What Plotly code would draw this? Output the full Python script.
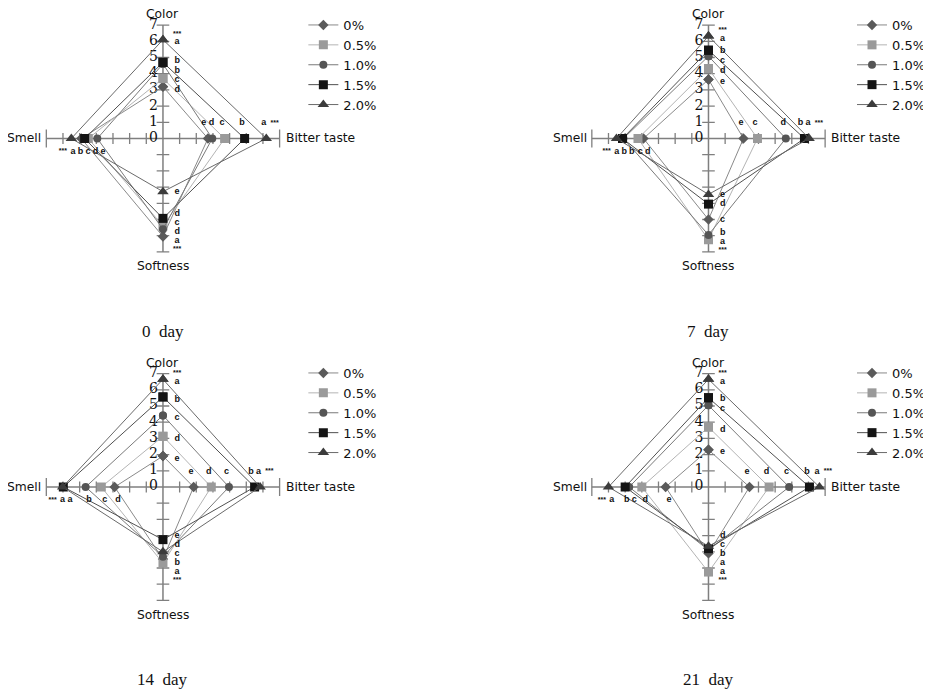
import plotly.graph_objects as go

# screen size and the page's default body margin (figure is drawn offset by it)
SCREEN_W, SCREEN_H = 931, 693
OFF = 8
W, H = SCREEN_W - OFF, SCREEN_H - OFF

series_names = ["0%", "0.5%", "1.0%", "1.5%", "2.0%"]
day_labels = ["0\u00a0 day", "7\u00a0 day", "14\u00a0 day", "21\u00a0 day"]
axis_names = ["Color", "Bitter taste", "Softness", "Smell"]
scale_ticks = [0, 1, 2, 3, 4, 5, 6, 7]
axis_max = 7
signif_mark = "***"

# ---- values, ordered as series_names: 0%, 0.5%, 1.0%, 1.5%, 2.0% ----
# day 0
color_d0 = [3.2, 3.7, 4.6, 4.7, 6.1]
bitter_d0 = [2.7, 3.7, 2.96, 4.9, 6.2]
soft_d0 = [6.05, 5.4, 5.6, 4.93, 3.28]
smell_d0 = [4.9, 4.48, 3.94, 4.7, 5.5]
# day 7
color_d7 = [3.64, 4.32, 5.08, 5.45, 6.32]
bitter_d7 = [2.1, 2.94, 4.64, 5.76, 6.04]
soft_d7 = [5.0, 6.25, 5.95, 4.05, 3.45]
smell_d7 = [3.9, 4.23, 5.1, 5.16, 5.52]
# day 14
color_d14 = [1.91, 3.13, 4.42, 5.56, 6.65]
bitter_d14 = [1.84, 2.9, 3.96, 5.5, 5.83]
soft_d14 = [4.45, 4.7, 4.3, 3.25, 4.0]
smell_d14 = [2.9, 3.7, 4.64, 5.98, 6.02]
# day 21
color_d21 = [2.3, 3.7, 5.04, 5.51, 6.65]
bitter_d21 = [2.46, 3.64, 4.84, 6.06, 6.66]
soft_d21 = [4.1, 5.25, 3.9, 3.8, 3.65]
smell_d21 = [2.57, 4.0, 4.76, 5.0, 6.0]

# ---- significance letters (same order) ----
color_l0 = ["d", "c", "b", "b", "a"]
bitter_l0 = ["e", "c", "d", "b", "a"]
soft_l0 = ["a", "c", "d", "d", "e"]
smell_l0 = ["b", "d", "e", "c", "a"]
color_l7 = ["e", "d", "c", "b", "a"]
bitter_l7 = ["e", "c", "d", "b", "a"]
soft_l7 = ["c", "a", "b", "d", "e"]
smell_l7 = ["d", "c", "b", "b", "a"]
color_l14 = ["e", "d", "c", "b", "a"]
bitter_l14 = ["e", "d", "c", "b", "a"]
soft_l14 = ["b", "a", "c", "e", "d"]
smell_l14 = ["d", "c", "b", "a", "a"]
color_l21 = ["e", "d", "c", "b", "a"]
bitter_l21 = ["e", "d", "c", "b", "a"]
soft_l21 = ["a", "a", "b", "c", "d"]
smell_l21 = ["e", "d", "c", "b", "a"]

days_values = [
    (color_d0, bitter_d0, soft_d0, smell_d0),
    (color_d7, bitter_d7, soft_d7, smell_d7),
    (color_d14, bitter_d14, soft_d14, smell_d14),
    (color_d21, bitter_d21, soft_d21, smell_d21),
]
days_letters = [
    (color_l0, bitter_l0, soft_l0, smell_l0),
    (color_l7, bitter_l7, soft_l7, smell_l7),
    (color_l14, bitter_l14, soft_l14, smell_l14),
    (color_l21, bitter_l21, soft_l21, smell_l21),
]

# ---- styles ----
symbols = ["diamond", "square", "circle", "square", "triangle-up"]
marker_colors = ["#5a5a5a", "#9a9a9a", "#555555", "#141414", "#3c3c3c"]
marker_sizes = [8, 9, 8, 9, 10]
line_colors = ["#8a8a8a", "#b4b4b4", "#7a7a7a", "#505050", "#6a6a6a"]
axis_color = "#7f7f7f"

# panel centres and legend top-left, in screen pixels
centers = [(163.3, 138.5), (710.0, 138.5), (163.3, 487.0), (710.0, 487.0)]
legend_pos = [(304, 10), (854, 10), (304, 358), (854, 358)]
UX, UY = 16.7, 16.2
HX, HY = 9.2, 8.0


def fx(px):
    return (px - OFF) / W


def fy(py):
    return 1 - (py - OFF) / H


def spread(vals, gap):
    order = sorted(range(len(vals)), key=lambda i: vals[i])
    clusters = [[i] for i in order]

    def positions(cl):
        c = sum(vals[i] for i in cl) / len(cl)
        n = len(cl)
        return [c + (k - (n - 1) / 2) * gap for k in range(n)]

    changed = True
    while changed:
        changed = False
        for j in range(len(clusters) - 1):
            a = positions(clusters[j])
            b = positions(clusters[j + 1])
            if a[-1] + gap > b[0] + 1e-9:
                clusters[j] = clusters[j] + clusters[j + 1]
                del clusters[j + 1]
                changed = True
                break
    pos = [0.0] * len(vals)
    for cl in clusters:
        for i, p in zip(cl, positions(cl)):
            pos[i] = p
    return pos


fig = go.Figure()
annotations = []
letter_font = dict(family="Liberation Sans, Arial", size=9, color="#111111", weight="bold")
star_font = dict(family="Liberation Sans, Arial", size=7, color="#111111", weight="bold")
lab_font = dict(family="DejaVu Sans", size=12.3, color="#111111")

for k, (cx, cy) in enumerate(centers):
    sfx = "" if k == 0 else str(k + 1)
    xa, ya = "x" + sfx, "y" + sfx
    leg = "legend" + sfx
    fig.update_layout(**{
        "xaxis" + sfx: dict(domain=[fx(cx - HX * UX), fx(cx + HX * UX)],
                            range=[-HX, HX], visible=False, anchor=ya),
        "yaxis" + sfx: dict(domain=[fy(cy + HY * UY), fy(cy - HY * UY)],
                            range=[-HY, HY], visible=False, anchor=xa),
    })

    # cross axes
    fig.add_trace(go.Scatter(
        x=[-axis_max, axis_max, None, 0, 0], y=[0, 0, None, -axis_max, axis_max],
        mode="lines", line=dict(color=axis_color, width=1.5),
        xaxis=xa, yaxis=ya, showlegend=False, hoverinfo="skip"))
    inner = [t for t in range(-axis_max + 1, axis_max) if t != 0]
    ends = [-axis_max, axis_max]
    fig.add_trace(go.Scatter(
        x=inner, y=[0] * len(inner), mode="markers",
        marker=dict(symbol="line-ns", size=8, line=dict(color=axis_color, width=1.3)),
        xaxis=xa, yaxis=ya, showlegend=False, hoverinfo="skip"))
    fig.add_trace(go.Scatter(
        x=ends, y=[0, 0], mode="markers",
        marker=dict(symbol="line-ns", size=13, line=dict(color=axis_color, width=1.3)),
        xaxis=xa, yaxis=ya, showlegend=False, hoverinfo="skip"))
    fig.add_trace(go.Scatter(
        x=[0] * (len(inner) + 2), y=inner + ends, mode="markers",
        marker=dict(symbol="line-ew", size=9, line=dict(color=axis_color, width=1.3)),
        xaxis=xa, yaxis=ya, showlegend=False, hoverinfo="skip"))

    # scale numbers on the Color axis
    fig.add_trace(go.Scatter(
        x=[-0.3] * len(scale_ticks), y=scale_ticks, mode="text",
        text=[str(t) for t in scale_ticks], textposition="middle left",
        textfont=dict(family="DejaVu Serif", size=14, color="#111111"),
        xaxis=xa, yaxis=ya, showlegend=False, hoverinfo="skip", cliponaxis=False))

    color_v, bitter_v, soft_v, smell_v = days_values[k]
    color_t, bitter_t, soft_t, smell_t = days_letters[k]

    # series polygons
    for s, name in enumerate(series_names):
        xs = [0, bitter_v[s], 0, -smell_v[s], 0]
        ys = [color_v[s], 0, -soft_v[s], 0, color_v[s]]
        fig.add_trace(go.Scatter(
            x=xs, y=ys, mode="lines+markers", name=name,
            line=dict(color=line_colors[s], width=1),
            marker=dict(symbol=symbols[s], size=marker_sizes[s], color=marker_colors[s]),
            xaxis=xa, yaxis=ya, legend=leg, showlegend=True, cliponaxis=False))

    # letters
    pc = spread(color_v, 0.6)
    pb = spread(bitter_v, 0.45)
    ps = spread(soft_v, 0.55)
    pm = spread(smell_v, 0.45)
    lx = [0.85] * 5 + [p - 0.15 for p in pb] + [0.85] * 5 + [-(p - 0.2) for p in pm]
    ly = [p - 0.15 for p in pc] + [0.95] * 5 + [-p for p in ps] + [-0.8] * 5
    lt = list(color_t) + list(bitter_t) + list(soft_t) + list(smell_t)
    fig.add_trace(go.Scatter(
        x=lx, y=ly, mode="text", text=lt, textposition="middle center",
        textfont=letter_font, xaxis=xa, yaxis=ya, showlegend=False,
        hoverinfo="skip", cliponaxis=False))
    sx = [0.85, max(pb) - 0.15 + 0.65, 0.85, -(max(pm) - 0.2) - 0.6]
    sy = [max(pc) - 0.15 + 0.5, 0.95, -(max(ps) + 0.5), -0.8]
    fig.add_trace(go.Scatter(
        x=sx, y=sy, mode="text", text=[signif_mark] * 4, textposition="middle center",
        textfont=star_font, xaxis=xa, yaxis=ya, showlegend=False,
        hoverinfo="skip", cliponaxis=False))

    # attribute names
    annotations += [
        dict(x=0, y=7.68, xref=xa, yref=ya, text=axis_names[0], showarrow=False,
             xanchor="center", yanchor="middle", font=lab_font),
        dict(x=7.25, y=0, xref=xa, yref=ya, text=axis_names[1], showarrow=False,
             xanchor="left", yanchor="middle", font=lab_font),
        dict(x=0, y=-7.9, xref=xa, yref=ya, text=axis_names[2], showarrow=False,
             xanchor="center", yanchor="middle", font=lab_font),
        dict(x=-7.18, y=0, xref=xa, yref=ya, text=axis_names[3], showarrow=False,
             xanchor="right", yanchor="middle", font=lab_font),
        dict(x=fx(cx), y=fy(cy + 192.5), xref="paper", yref="paper",
             text=day_labels[k], showarrow=False, xanchor="center", yanchor="middle",
             font=dict(family="Liberation Serif, Times New Roman", size=17, color="#111111")),
    ]

    lx0, ly0 = legend_pos[k]
    fig.update_layout(**{leg: dict(
        x=fx(lx0), y=fy(ly0), xanchor="left", yanchor="top",
        font=dict(family="DejaVu Sans", size=13, color="#111111"),
        bgcolor="rgba(0,0,0,0)", borderwidth=0, tracegroupgap=0)})

fig.update_layout(
    width=W, height=H,
    margin=dict(l=0, r=0, t=0, b=0),
    paper_bgcolor="white", plot_bgcolor="white",
    annotations=annotations,
    hovermode=False,
)

fig.write_html("out.html")
